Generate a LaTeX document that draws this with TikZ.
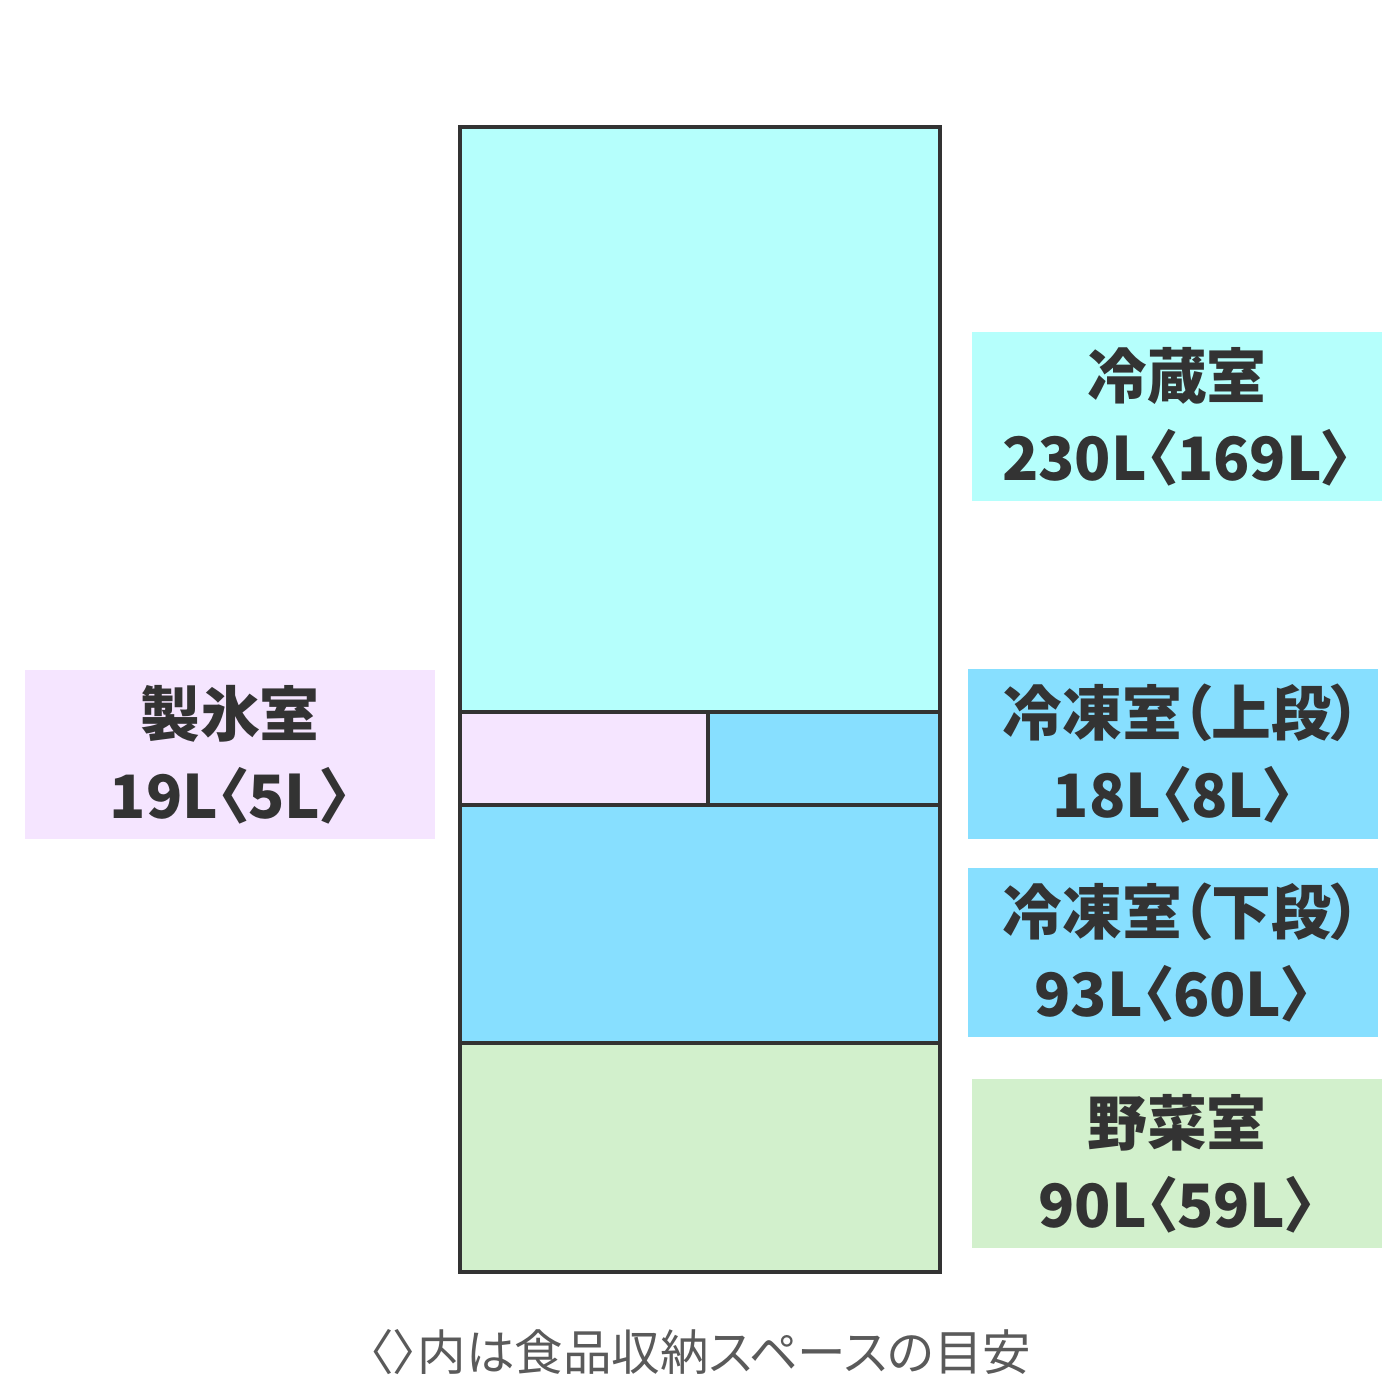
\documentclass[tikz,border=0pt]{standalone}
\usepackage{fontspec}
\setmainfont[RawFeature=+palt]{Noto Sans CJK JP}
\usetikzlibrary{positioning}
\definecolor{ink}{HTML}{333333}
\definecolor{note}{HTML}{5A5A5A}
\definecolor{reizo}{HTML}{B5FFFC}
\definecolor{seihyo}{HTML}{F5E5FF}
\definecolor{reito}{HTML}{87DFFF}
\definecolor{yasai}{HTML}{D2F0CC}
\tikzset{
	room/.style={draw=ink, line width=0.45mm},
	tag/.style={minimum width=4.1cm, minimum height=1.69cm, align=center, text=ink,
		font=\bfseries\fontsize{17}{23.3}\selectfont, inner sep=0pt}
}

\begin{document}
\begin{tikzpicture}[x=0.01cm, y=-0.01cm]
		%%%%% START %%%%%
		\useasboundingbox[fill=white] (0, 0) rectangle (1400, 1400);
		
		\fill[reizo] (460, 127) rectangle (940, 712);
		\fill[seihyo] (460, 712) rectangle (708, 805);
		\fill[reito] (708, 712) rectangle (940, 805);
		\fill[reito] (460, 805) rectangle (940, 1043);
		\fill[yasai] (460, 1043) rectangle (940, 1272);
		
		\draw[room] (460, 712) -- (940, 712);
		\draw[room] (460, 805) -- (940, 805);
		\draw[room] (460, 1043) -- (940, 1043);
		\draw[room] (708, 712) -- (708, 805);
		\draw[room] (460, 127) rectangle (940, 1272);
		
		\node[tag, fill=reizo] (reizoTag) at (1177, 416.5) {冷蔵室\\230L〈169L〉};
		\node[tag, fill=seihyo] (seihyoTag) at (230, 754.5) {製氷室\\19L〈5L〉};
		\node[tag, fill=reito] (joudanTag) at (1173, 754) {\hspace{5pt}冷凍室（上段）\\18L〈8L〉};
		\node[tag, fill=reito] (gedanTag) at (1173, 952.5) {\hspace{5pt}冷凍室（下段）\\93L〈60L〉};
		\node[tag, fill=yasai] (yasaiTag) at (1177, 1163.5) {野菜室\\90L〈59L〉};
		
		\node[text=note, font=\fontsize{13.8}{16}\selectfont] (memo) at (700, 1352) {〈〉内は食品収納スペースの目安};
		%%%%% END %%%%%
	\end{tikzpicture}
\end{document}
